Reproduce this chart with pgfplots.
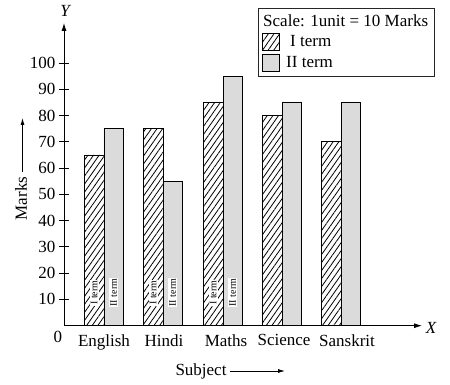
\documentclass[border=0pt]{standalone}
\usepackage{pgfplots}
\pgfplotsset{compat=1.18}
\usepackage{fontspec}
\setmainfont{Liberation Serif}
\usetikzlibrary{patterns.meta,arrows.meta}
\pgfplotsset{
  sqlegend/.style={legend image code/.code={\draw[##1, line width=0.8pt] (0pt,-8.5pt) rectangle (17pt,8.5pt);}},
}
\newcommand{\bigf}{\fontsize{17}{20}\selectfont}
\tikzset{inlab/.style={rotate=90, fill=white, inner sep=1pt, font=\fontsize{10}{11}\selectfont}}
\begin{document}
\begin{tikzpicture}[x=1pt,y=1pt]
\path[use as bounding box] (-64,-59.3) rectangle (386,325.7);
\begin{axis}[
  at={(0,0)}, anchor=south west,
  scale only axis, width=358pt, height=302.7pt,
  xmin=0, xmax=358, ymin=0, ymax=115.2,
  axis lines=left,
  axis line style={line width=0.8pt, -{Latex[length=8pt,width=5pt]}},
  ytick={10,20,...,100},
  tick align=center,
  major tick length=10pt,
  tick style={black, line width=0.8pt},
  xtick={40,100,162,220,283},
  xticklabels={English,Hindi,Maths,Science,Sanskrit},
  x tick style={draw=none},
  tick label style={font=\bigf},
  /pgf/number format/assume math mode=true,
  legend style={at={(0.542,1.0496)}, anchor=north west, draw=black!85, line width=0.8pt,
    font=\bigf, inner xsep=4pt, inner ysep=4.5pt, row sep=3pt},
  legend cell align=left,
]
\addlegendimage{empty legend}
\addlegendentry{\hspace{-19pt}Scale: 1unit = 10 Marks\hspace{4pt}}
\addplot[ybar, bar width=19.5, bar shift=-9.75, draw=black, line width=0.7pt,
  pattern={Lines[angle=55,distance=4.6pt,line width=0.8pt]}, sqlegend]
  coordinates {(40,65) (99,75) (159,85) (218,80) (277,70)};
\addlegendentry{\hspace{8pt}I term}
\addplot[ybar, bar width=19.5, bar shift=9.75, draw=black, line width=0.7pt,
  fill=black!14, sqlegend]
  coordinates {(40,75) (99,55) (159,95) (218,85) (277,85)};
\addlegendentry{\hspace{4pt}II term}
\node[inlab] at (axis cs:30.25,12.6) {I term};
\node[inlab] at (axis cs:49.75,12.6) {II term};
\node[inlab] at (axis cs:89.25,12.6) {I term};
\node[inlab] at (axis cs:108.75,12.6) {II term};
\node[inlab] at (axis cs:149.25,12.6) {I term};
\node[inlab] at (axis cs:168.75,12.6) {II term};
\end{axis}
\node[font=\bigf] at (-6,-11) {0};
\node[font=\bigf\itshape] at (367,-2.5) {X};
\node[font=\bigf\itshape] at (1,314.7) {Y};
\node[font=\bigf, rotate=90] at (-43,127.2) {Marks};
\draw[line width=0.8pt, -{Latex[length=7pt,width=4pt]}] (-41.5,153.7) -- (-41.5,207.7);
\node[font=\bigf, anchor=base] at (137,-50.3) {Subject};
\draw[line width=0.8pt, -{Latex[length=7pt,width=4pt]}] (166,-45.3) -- (221,-45.3);
\end{tikzpicture}
\end{document}
